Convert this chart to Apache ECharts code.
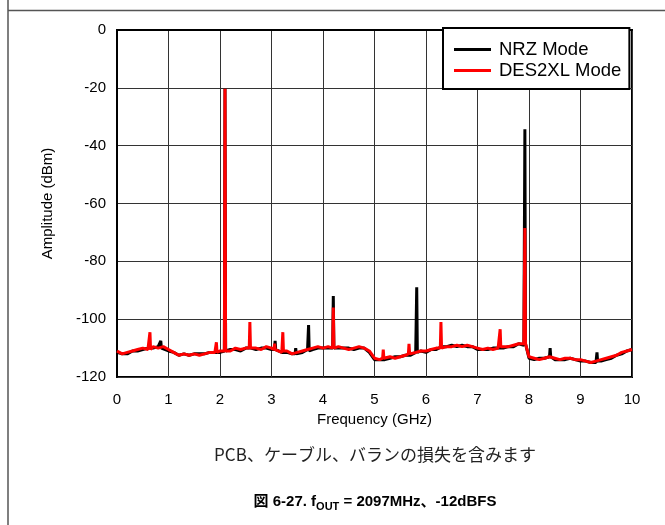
<!DOCTYPE html>
<html>
<head>
<meta charset="utf-8">
<script src="https://cdn.jsdelivr.net/npm/echarts@6/dist/echarts.min.js"></script>
<style>
  html, body { margin: 0; padding: 0; background: #fff; }
  #chart { width: 665px; height: 525px; }
</style>
</head>
<body>
<div id="chart"></div>
<script>
// sampling step of the noise floor arrays (GHz)
const freqStep = 0.1

// noise floor, dBm, one value per 0.1 GHz from 0 to 10 GHz
const nrzFloor = [
  -111.5, -112, -112, -111, -111, -110.5, -110, -110, -109.5, -110,
  -111, -111.5, -112.5, -112, -112.5, -112, -112, -112, -111.5, -111.5,
  -111.5, -111, -110.5, -110.5, -111, -110, -110, -110.5, -110, -110,
  -110.5, -111, -111.5, -111.5, -112, -111.5, -111.5, -110.5, -110.5, -110,
  -110, -110, -110.5, -110, -110, -110, -110.5, -110, -110, -111.5,
  -114, -114, -114, -113.5, -113, -113, -112.5, -112.5, -111.5, -111,
  -111.5, -110.5, -110.5, -109.5, -109.5, -109, -109.5, -109, -109.5, -109.5,
  -110.5, -110.5, -110.5, -110, -110, -110, -109.5, -109.5, -108.5, -109,
  -113.5, -114, -113.5, -113.5, -113.5, -114, -114, -114, -113.5, -114,
  -114.5, -114.5, -115, -115, -114.5, -114, -113.5, -112.5, -112, -111, -110.5
]

const des2xlFloor = [
  -111, -112, -111.5, -111, -110.5, -110, -110.5, -109.5, -110, -109.5,
  -110.5, -111.5, -112.5, -112, -112.5, -112, -112.5, -112, -111.5, -111.5,
  -111, -110.5, -111, -110, -110.5, -110, -109.5, -110, -110.5, -109.5,
  -110, -111, -111.5, -111, -112, -111.5, -111, -110.5, -110, -109.5,
  -110, -109.5, -110, -109.5, -110, -110.5, -110, -109.5, -110, -111,
  -113.5, -114, -113.5, -113, -113.5, -113, -112.5, -112, -111.5, -111,
  -111, -110.5, -110, -110, -109.5, -109.5, -109, -109.5, -109, -109.5,
  -110, -110.5, -110, -110.5, -110, -109.5, -109.5, -109, -108.5, -108.5,
  -113, -113.5, -114, -113.5, -113, -113.5, -114, -113.5, -113.5, -114,
  -114, -114.5, -115, -114.5, -114, -113.5, -113, -112.5, -111.5, -111, -110.5
]

// spurs: [frequency GHz, peak dBm, floor level at its foot dBm]
const nrzSpurs = [
  [0.85, -107.5, -110],
  [2.097, -20.3, -111],
  [3.07, -107.5, -110.5],
  [3.47, -110, -112],
  [3.72, -102, -111],
  [4.2, -92, -110],
  [5.82, -89, -111.5],
  [7.92, -34.3, -108.5],
  [8.41, -110, -113],
  [9.32, -111.5, -114.5]
]

const des2xlSpurs = [
  [0.64, -104.5, -110.5],
  [1.93, -108, -111.5],
  [2.097, -20.3, -111],
  [2.58, -101, -110],
  [3.06, -108.5, -110.5],
  [3.22, -104.5, -111],
  [4.2, -96, -110],
  [5.17, -110.5, -113.5],
  [5.67, -108.5, -112],
  [6.29, -101, -110],
  [7.44, -103.5, -109.5],
  [7.92, -68.5, -108.5]
]

const xTicks = [0, 1, 2, 3, 4, 5, 6, 7, 8, 9, 10]
const yTicks = [-120, -100, -80, -60, -40, -20, 0]

// merge floor samples with narrow spur lines
const buildTrace = (floor, spurs) => {
  const half = 0.012
  const pts = floor
    .map((v, i) => [+(i * freqStep).toFixed(2), v])
    .filter(p => !spurs.some(s => Math.abs(p[0] - s[0]) < half + 0.004))
  spurs.forEach(s => {
    pts.push([s[0] - half, s[2]], [s[0], s[1]], [s[0] + half, s[2]])
  })
  return pts.sort((a, b) => a[0] - b[0])
}

const chart = echarts.init(document.getElementById('chart'))

const labelFont = { fontFamily: 'Liberation Sans, Arial, sans-serif', fontSize: 15, color: '#000' }

const option = {
  backgroundColor: '#fff',
  animation: false,
  grid: {
    left: 117,
    right: 33,
    top: 30,
    bottom: 148,
    show: true,
    borderColor: '#000',
    borderWidth: 2,
    containLabel: false
  },
  legend: {
    orient: 'vertical',
    left: 443,
    top: 28,
    padding: [12, 8, 9, 11],
    itemGap: 2,
    itemWidth: 37,
    itemHeight: 3,
    backgroundColor: '#fff',
    borderColor: '#000',
    borderWidth: 2,
    textStyle: { fontFamily: 'Liberation Sans, Arial, sans-serif', fontSize: 18.5, color: '#000', lineHeight: 19, padding: [0, 0, 0, 3] },
    data: [
      { name: 'NRZ Mode', icon: 'rect', itemStyle: { color: '#000' } },
      { name: 'DES2XL Mode', icon: 'rect', itemStyle: { color: '#ff0000' } }
    ]
  },
  xAxis: {
    type: 'value',
    min: xTicks[0],
    max: xTicks[xTicks.length - 1],
    interval: 1,
    name: 'Frequency (GHz)',
    nameLocation: 'middle',
    nameGap: 35,
    nameTextStyle: labelFont,
    axisLine: { show: true, lineStyle: { color: '#000', width: 2 } },
    axisTick: { show: false },
    axisLabel: { ...labelFont, margin: 15 },
    splitLine: { show: true, lineStyle: { color: '#333', width: 1 } }
  },
  yAxis: {
    type: 'value',
    min: yTicks[0],
    max: yTicks[yTicks.length - 1],
    interval: 20,
    name: 'Amplitude (dBm)',
    nameLocation: 'middle',
    nameGap: 62,
    nameTextStyle: labelFont,
    axisLine: { show: true, lineStyle: { color: '#000', width: 2 } },
    axisTick: { show: false },
    axisLabel: { ...labelFont, margin: 11 },
    splitLine: { show: true, lineStyle: { color: '#333', width: 1 } }
  },
  series: [
    {
      name: 'NRZ Mode',
      type: 'line',
      showSymbol: false,
      symbol: 'none',
      lineStyle: { color: '#000', width: 3 },
      itemStyle: { color: '#000' },
      data: buildTrace(nrzFloor, nrzSpurs),
      z: 2
    },
    {
      name: 'DES2XL Mode',
      type: 'line',
      showSymbol: false,
      symbol: 'none',
      lineStyle: { color: '#ff0000', width: 3 },
      itemStyle: { color: '#ff0000' },
      data: buildTrace(des2xlFloor, des2xlSpurs),
      z: 3
    }
  ],
  graphic: [
    // page frame
    { type: 'line', shape: { x1: 8, y1: 0, x2: 8, y2: 525 }, style: { stroke: '#555', lineWidth: 1.5 } },
    { type: 'line', shape: { x1: 8, y1: 10.5, x2: 665, y2: 10.5 }, style: { stroke: '#555', lineWidth: 1.5 } },
    {
      type: 'text',
      x: 375,
      y: 455,
      style: {
        text: 'PCB、ケーブル、バランの損失を含みます',
        fontFamily: 'Noto Sans CJK JP, sans-serif',
        fontSize: 17,
        fill: '#222',
        align: 'center',
        verticalAlign: 'middle'
      }
    },
    {
      type: 'text',
      x: 375,
      y: 502,
      style: {
        text: '{b|図 6-27. f}{s|OUT}{b| = 2097MHz、-12dBFS}',
        align: 'center',
        verticalAlign: 'middle',
        rich: {
          b: { fontFamily: 'Liberation Sans, Noto Sans CJK JP, sans-serif', fontSize: 15, fontWeight: 'bold', fill: '#000' },
          s: { fontFamily: 'Liberation Sans, sans-serif', fontSize: 11, fontWeight: 'bold', fill: '#000', padding: [10, 0, 0, 0] }
        }
      }
    }
  ]
}

chart.setOption(option)
</script>
</body>
</html>
